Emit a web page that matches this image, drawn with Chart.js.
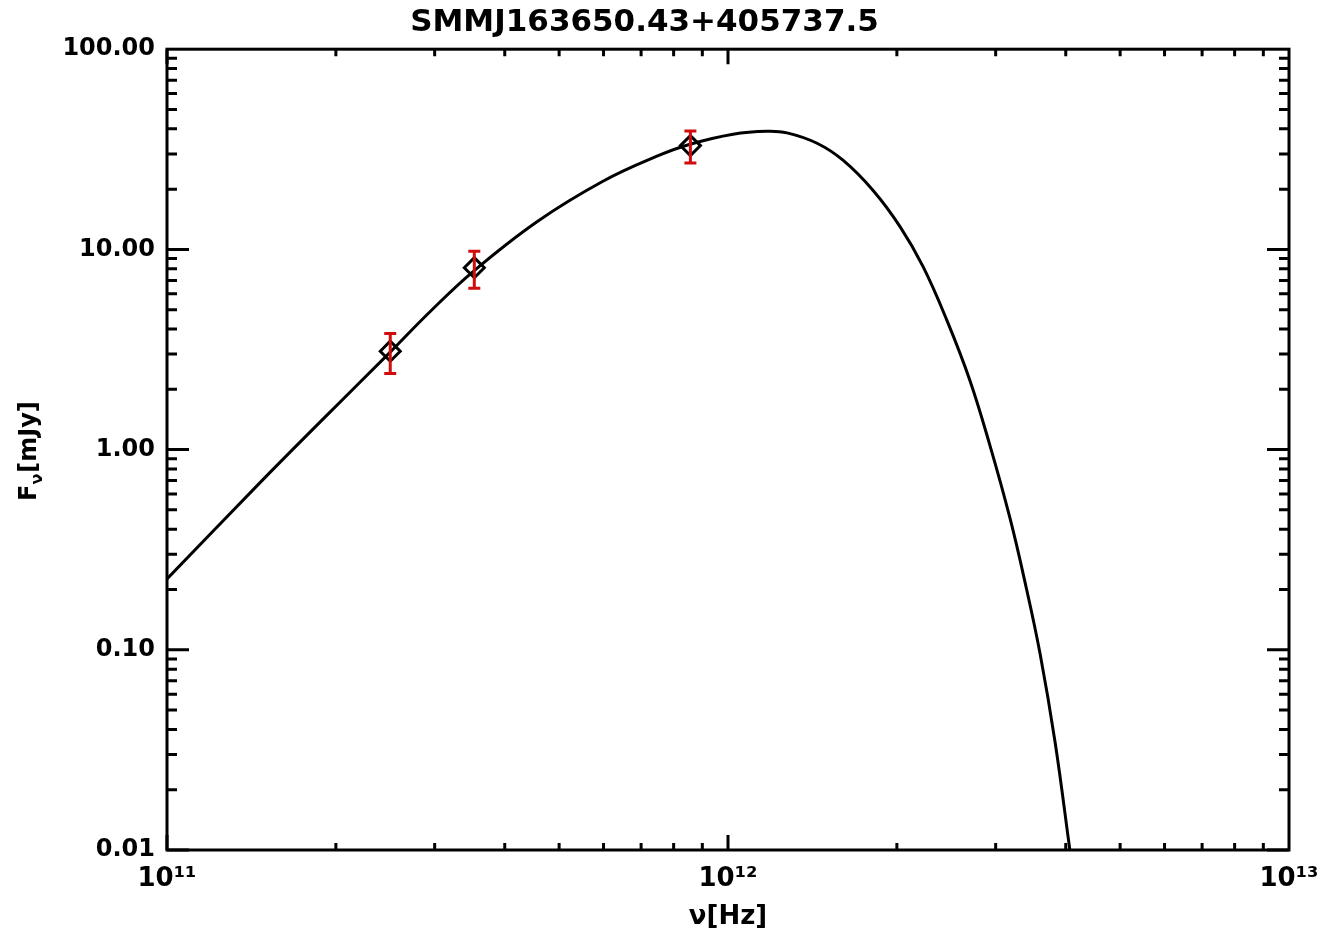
<!DOCTYPE html>
<html>
<head>
<meta charset="utf-8">
<script src="https://cdn.jsdelivr.net/npm/chart.js@4.4.1/dist/chart.umd.min.js"></script>
<style>
  html, body { margin: 0; padding: 0; background: #fff; }
  #wrap { width: 1341px; height: 941px; }
</style>
</head>
<body>
<div id="wrap"><canvas id="sed"></canvas></div>
<script>
const chartTitle = 'SMMJ163650.43+405737.5';

// observed photometry (Hz, mJy)
const obsFreq = [2.5e11, 3.53e11, 8.57e11];
const obsFlux = [3.1, 8.1, 33.0];
const obsErr = [0.7, 1.7, 6.0];

// fitted SED
const fitFreq = [1.0e11, 1.465e11, 1.897e11, 2.497e11, 2.943e11, 3.512e11, 4.566e11, 5.985e11,
  7.47e11, 8.56e11, 1.021e12, 1.174e12, 1.274e12, 1.441e12, 1.603e12, 1.814e12, 2.026e12,
  2.226e12, 2.456e12, 2.70e12, 2.93e12, 3.18e12, 3.38e12, 3.60e12, 3.83e12, 4.07e12];
const fitFlux = [0.226, 0.684, 1.42, 3.06, 4.88, 7.75, 13.75, 21.9,
  29.2, 33.5, 37.6, 38.9, 38.2, 33.9, 27.9, 19.7, 13.0,
  8.22, 4.42, 2.21, 1.05, 0.457, 0.221, 0.0955, 0.0343, 0.0099];

const xTicks = [1e11, 1e12, 1e13];
const xTickLabels = ['10\u00B9\u00B9', '10\u00B9\u00B2', '10\u00B9\u00B3'];
const yTicks = [0.01, 0.1, 1, 10, 100];

const FONT = 'DejaVu Sans';

// box round the plot, with IDL style ticks pointing inwards on all sides
const frame = {
  id: 'frame',
  afterDraw(chart) {
    const { ctx, chartArea: a, scales: { x, y } } = chart;
    ctx.save();
    ctx.strokeStyle = '#000';
    ctx.lineWidth = 3;
    ctx.beginPath();
    for (let e = 11; e <= 12; e++) {
      for (let m = 1; m <= 9; m++) {
        const px = x.getPixelForValue(m * Math.pow(10, e));
        const len = m === 1 ? 15 : 7;
        ctx.moveTo(px, a.bottom); ctx.lineTo(px, a.bottom - len);
        ctx.moveTo(px, a.top); ctx.lineTo(px, a.top + len);
      }
    }
    for (let e = -2; e <= 1; e++) {
      for (let m = 1; m <= 9; m++) {
        const py = y.getPixelForValue(m * Math.pow(10, e));
        const len = m === 1 ? 22 : 10;
        ctx.moveTo(a.left, py); ctx.lineTo(a.left + len, py);
        ctx.moveTo(a.right, py); ctx.lineTo(a.right - len, py);
      }
    }
    ctx.stroke();
    ctx.strokeRect(a.left, a.top, a.right - a.left, a.bottom - a.top);

    // y axis title with subscript nu
    ctx.fillStyle = '#000';
    ctx.translate(30, (a.top + a.bottom) / 2 + 2);
    ctx.rotate(-Math.PI / 2);
    ctx.textBaseline = 'middle';
    const big = 'bold 24px "' + FONT + '"';
    const small = 'bold 16px "' + FONT + '"';
    ctx.font = big;
    const wF = ctx.measureText('F').width;
    const wRest = ctx.measureText('[mJy]').width;
    ctx.font = small;
    const wNu = ctx.measureText('\u03BD').width;
    let tx = -(wF + wNu + wRest) / 2;
    ctx.font = big;
    ctx.fillText('F', tx, 0);
    tx += wF;
    ctx.font = small;
    ctx.fillText('\u03BD', tx, 8);
    tx += wNu + 1;
    ctx.font = big;
    ctx.fillText('[mJy]', tx, 0);
    ctx.restore();
  }
};

const errBars = {
  id: 'errBars',
  afterDatasetsDraw(chart) {
    const { ctx, scales: { x, y } } = chart;
    ctx.save();
    ctx.strokeStyle = '#d00c0c';
    ctx.lineWidth = 3;
    obsFreq.forEach((f, i) => {
      const px = x.getPixelForValue(f);
      const top = y.getPixelForValue(obsFlux[i] + obsErr[i]);
      const bot = y.getPixelForValue(obsFlux[i] - obsErr[i]);
      ctx.beginPath();
      ctx.moveTo(px, top); ctx.lineTo(px, bot);
      ctx.moveTo(px - 6, top); ctx.lineTo(px + 6, top);
      ctx.moveTo(px - 6, bot); ctx.lineTo(px + 6, bot);
      ctx.stroke();
    });
    ctx.restore();
  }
};

new Chart(document.getElementById('sed'), {
  type: 'scatter',
  data: {
    datasets: [{
      data: fitFreq.map((f, i) => ({ x: f, y: fitFlux[i] })),
      showLine: true,
      borderColor: '#000',
      borderWidth: 3,
      pointRadius: 0,
      tension: 0.4
    }, {
      data: obsFreq.map((f, i) => ({ x: f, y: obsFlux[i] })),
      pointStyle: 'rectRot',
      pointRadius: 10,
      borderWidth: 3,
      borderColor: '#000',
      backgroundColor: 'rgba(0,0,0,0)'
    }]
  },
  options: {
    maintainAspectRatio: false,
    animation: false,
    layout: { padding: { left: 0, right: 52, top: 0, bottom: 0 } },
    plugins: {
      legend: { display: false },
      tooltip: { enabled: false },
      title: {
        display: true,
        text: chartTitle,
        color: '#000',
        font: { family: FONT, size: 31, weight: 'bold' },
        padding: { top: 4, bottom: 8 }
      }
    },
    scales: {
      x: {
        type: 'logarithmic',
        min: 1e11,
        max: 1e13,
        grid: { display: false, drawTicks: false },
        border: { display: false },
        afterBuildTicks: s => { s.ticks = xTicks.map(v => ({ value: v })); },
        afterFit: s => { s.height = 91; },
        ticks: {
          color: '#000',
          padding: 14,
          maxRotation: 0,
          font: { family: FONT, size: 26, weight: 'bold' },
          callback: v => xTickLabels[xTicks.indexOf(v)]
        },
        title: {
          display: true,
          text: '\u03BD[Hz]',
          color: '#000',
          font: { family: FONT, size: 26, weight: 'bold' },
          padding: { top: 0, bottom: 8 }
        }
      },
      y: {
        type: 'logarithmic',
        min: 0.01,
        max: 100,
        grid: { display: false, drawTicks: false },
        border: { display: false },
        afterBuildTicks: s => { s.ticks = yTicks.map(v => ({ value: v })); },
        afterFit: s => { s.width = 167; },
        ticks: {
          color: '#000',
          padding: 12,
          font: { family: FONT, size: 24, weight: 'bold' },
          callback: v => Number(v).toFixed(2)
        }
      }
    }
  },
  plugins: [errBars, frame]
});
</script>
</body>
</html>
